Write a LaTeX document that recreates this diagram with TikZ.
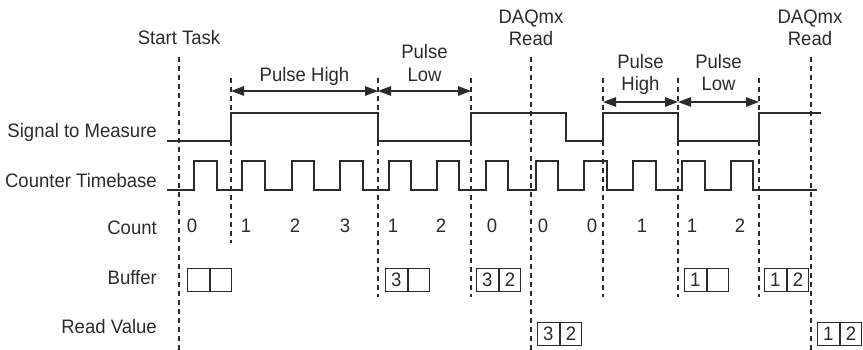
\documentclass[tikz,border=0pt]{standalone}
\usepackage{fontspec}
\setmainfont{Liberation Sans}[FakeStretch=0.95]
\usetikzlibrary{arrows.meta}
\definecolor{ink}{HTML}{2B2B2B}
\begin{document}
\begin{tikzpicture}[x=1pt,y=-1pt,
  every node/.style={text=ink,font=\fontsize{19.5}{23}\selectfont,inner sep=0pt},
  lbl/.style={anchor=base east},
  txt/.style={anchor=base},
  guide/.style={draw=ink,line width=1.2pt,dash pattern=on 5pt off 4pt},
  wave/.style={draw=ink,line width=1.3pt},
  span/.style={draw=ink,line width=1.2pt,{Triangle[length=13pt,width=9.5pt]}-{Triangle[length=13pt,width=9.5pt]}},
  cell/.style={draw=ink,line width=1.2pt,minimum width=21.5pt,minimum height=23pt,anchor=north west,inner sep=0pt}]
\useasboundingbox (0,0) rectangle (863,350);

% row labels
\node[lbl] (lsig) at (157,137.3) {Signal to Measure};
\node[lbl] (ltb)  at (157,187.7) {Counter Timebase};
\node[lbl] (lcnt) at (157,234) {Count};
\node[lbl] (lbuf) at (157,284) {Buffer};
\node[lbl] (lrv)  at (157,333) {Read Value};

% top labels
\node[txt] (tstart) at (179,45) {Start Task};
\node[txt] (tdaq1a) at (531,24) {DAQmx};
\node[txt] (tdaq1b) at (531,46) {Read};
\node[txt] (tdaq2a) at (810,24) {DAQmx};
\node[txt] (tdaq2b) at (810,46) {Read};
\node[txt] (tph1)  at (304.5,82) {Pulse High};
\node[txt] (tpl1a) at (424.5,59) {Pulse};
\node[txt] (tpl1b) at (424.5,82) {Low};
\node[txt] (tph2a) at (640.5,69) {Pulse};
\node[txt] (tph2b) at (640.5,91) {High};
\node[txt] (tpl2a) at (718.5,69) {Pulse};
\node[txt] (tpl2b) at (718.5,91) {Low};

% dashed guides
\foreach \n/\x/\ya/\yb in {g1/179/57/350, g2/231/78/243, g3/378/78/297, g4/471/78/297,
  g5/531/57/350, g6/603/78/297, g7/678/78/297, g8/759/78/297, g9/811/57/350}{
  \coordinate (\n t) at (\x,\ya);
  \coordinate (\n b) at (\x,\yb);
  \draw[guide] (\n t) -- (\n b);
}

% span arrows
\coordinate (a1) at (231,91); \coordinate (a2) at (378,91); \coordinate (a3) at (471,91);
\coordinate (c1) at (603,102); \coordinate (c2) at (678,102); \coordinate (c3) at (759,102);
\draw[span] (a1) -- (a2);
\draw[span] (a2) -- (a3);
\draw[span] (c1) -- (c2);
\draw[span] (c2) -- (c3);

% signal to measure
\draw[wave] (167,141) -- (231,141) -- (231,113) -- (378,113) -- (378,141) -- (471,141)
  -- (471,113) -- (566,113) -- (566,141) -- (603,141) -- (603,113) -- (678,113)
  -- (678,141) -- (759,141) -- (759,113) -- (821,113);

% counter timebase
\draw[wave] (167,190)
  \foreach \r/\f in {194/217,242/265,292/314,340/363,389/411,437/459,486/508,536/558,584/607,633/656,682/705,731/753}{
    -- (\r,190) -- (\r,161) -- (\f,161) -- (\f,190)
  } -- (817,190);

% counts
\foreach \n/\x/\v in {k1/192/0,k2/246/1,k3/295/2,k4/345/3,k5/393/1,k6/441/2,
  k7/492/0,k8/543/0,k9/592/0,k10/642/1,k11/692/1,k12/740/2}{
  \node[txt] (\n) at (\x,233) {\v};
}

% buffer cells
\node[cell] (b1a) at (187,268) {};
\node[cell] (b1b) at (b1a.north east) {};
\node[cell] (b2a) at (385,268) {3};
\node[cell] (b2b) at (b2a.north east) {};
\node[cell] (b3a) at (476,268) {3};
\node[cell] (b3b) at (b3a.north east) {2};
\node[cell] (b4a) at (684,268) {1};
\node[cell] (b4b) at (b4a.north east) {};
\node[cell] (b5a) at (764,268) {1};
\node[cell] (b5b) at (b5a.north east) {2};

% read value cells
\node[cell] (r1a) at (537,322) {3};
\node[cell] (r1b) at (r1a.north east) {2};
\node[cell] (r2a) at (817,322) {1};
\node[cell] (r2b) at (r2a.north east) {2};
\end{tikzpicture}
\end{document}
